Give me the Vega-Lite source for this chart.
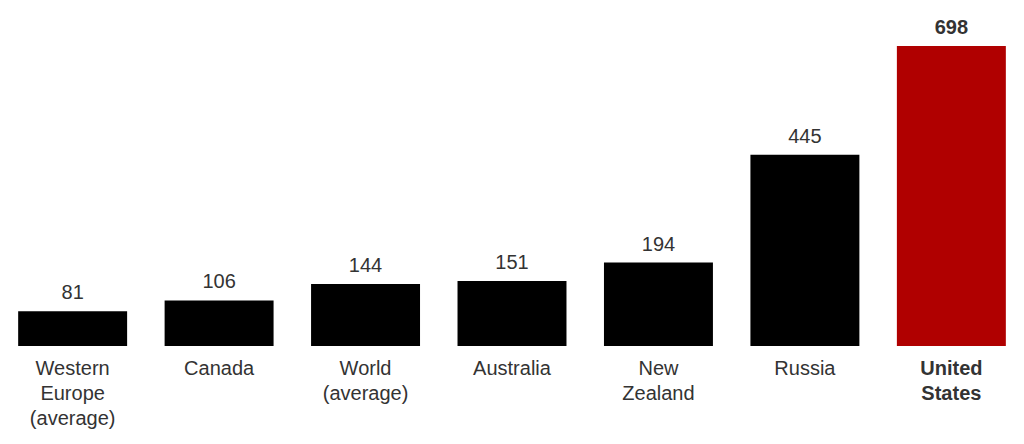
{
  "$schema": "https://vega.github.io/schema/vega-lite/v6.json",
  "width": 1024,
  "height": 346,
  "autosize": "none",
  "padding": {"left": 0, "top": 0, "right": 0, "bottom": 98},
  "background": "white",
  "config": {"view": {"stroke": null}},
  "data": {
    "values": [
      {"country": "Western\nEurope\n(average)", "rate": 81},
      {"country": "Canada", "rate": 106},
      {"country": "World\n(average)", "rate": 144},
      {"country": "Australia", "rate": 151},
      {"country": "New\nZealand", "rate": 194},
      {"country": "Russia", "rate": 445},
      {"country": "United\nStates", "rate": 698}
    ]
  },
  "encoding": {
    "x": {
      "field": "country",
      "type": "nominal",
      "sort": null,
      "axis": null,
      "scale": {"paddingInner": 0.256, "paddingOuter": 0.124}
    }
  },
  "layer": [
    {
      "mark": {"type": "bar"},
      "encoding": {
        "y": {"field": "rate", "type": "quantitative", "axis": null, "scale": {"domain": [0, 805], "nice": false}},
        "color": {
          "condition": {"test": "datum.country == 'United\\nStates'", "value": "#b00000"},
          "value": "#000000"
        }
      }
    },
    {
      "transform": [{"filter": "datum.country != 'United\\nStates'"}],
      "mark": {"type": "text", "baseline": "alphabetic", "dy": -12, "font": "Liberation Sans", "fontSize": 20, "color": "#333333"},
      "encoding": {
        "y": {"field": "rate", "type": "quantitative"},
        "text": {"field": "rate", "type": "quantitative"}
      }
    },
    {
      "transform": [{"filter": "datum.country == 'United\\nStates'"}],
      "mark": {"type": "text", "baseline": "alphabetic", "dy": -12, "font": "Liberation Sans", "fontSize": 20, "fontWeight": "bold", "color": "#333333"},
      "encoding": {
        "y": {"field": "rate", "type": "quantitative"},
        "text": {"field": "rate", "type": "quantitative"}
      }
    },
    {
      "transform": [{"filter": "datum.country != 'United\\nStates'"}],
      "mark": {"type": "text", "baseline": "top", "dy": 13, "lineBreak": "\n", "lineHeight": 25, "font": "Liberation Sans", "fontSize": 20, "color": "#333333"},
      "encoding": {
        "y": {"datum": 0, "type": "quantitative"},
        "text": {"field": "country", "type": "nominal"}
      }
    },
    {
      "transform": [{"filter": "datum.country == 'United\\nStates'"}],
      "mark": {"type": "text", "baseline": "top", "dy": 13, "lineBreak": "\n", "lineHeight": 25, "font": "Liberation Sans", "fontSize": 20, "fontWeight": "bold", "color": "#333333"},
      "encoding": {
        "y": {"datum": 0, "type": "quantitative"},
        "text": {"field": "country", "type": "nominal"}
      }
    }
  ]
}
